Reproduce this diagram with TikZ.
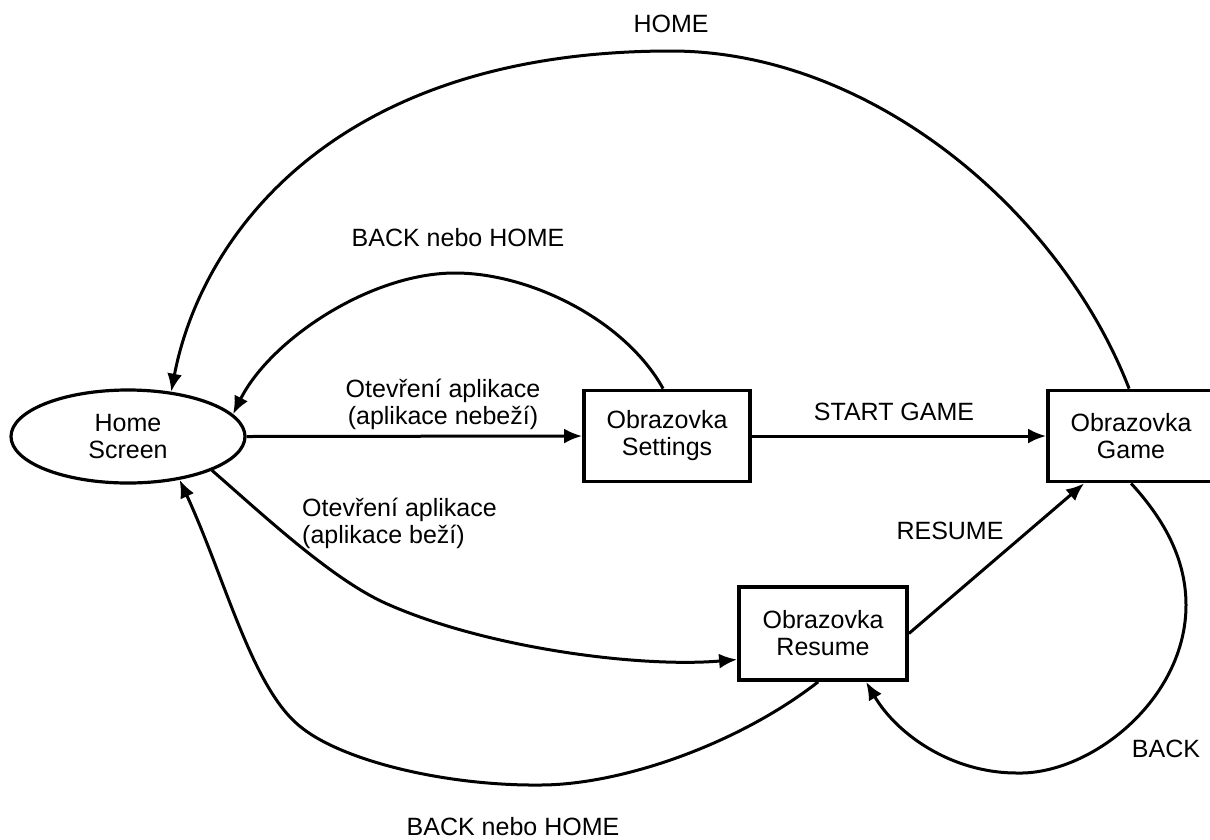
\documentclass[tikz,border=0pt]{standalone}
\usepackage{fontspec}
\setmainfont{Liberation Sans}
\usetikzlibrary{arrows.meta,shapes.geometric,calc}
\begin{document}
\begin{tikzpicture}[x=1pt,y=-1pt,
  every node/.style={font=\fontsize{25}{27}\selectfont, inner sep=0pt},
  statebox/.style={draw, rectangle, line width=3.8pt, minimum width=166pt, minimum height=91pt, align=center},
  stateell/.style={draw, ellipse, line width=3.2pt, minimum width=234pt, minimum height=93pt, align=center},
  conn/.style={line width=3pt, -{Latex[length=18pt,width=15pt]}},
  lbl/.style={align=center}]
\useasboundingbox (0,0) rectangle (1210,839);
% nodes
\node[stateell] (hs) at (128,436.5) {Home\\Screen};
\node[statebox] (set) at (667,436) {Obrazovka\\Settings};
\node[statebox] (game) at (1131,436) {Obrazovka\\Game};
\node[statebox, minimum width=168pt, minimum height=93pt] (res) at (823,633.5) {Obrazovka\\Resume};
% straight connectors
\draw[conn] (hs.east) -- (set.west);
\draw[conn] (set.east) -- (game.west);
\draw[conn] (res.east) -- ($(game.south west)+(38,0)$);
% HOME arc
\draw[conn] ($(game.north west)+(83,0)$) .. controls (1060,210) and (870,51) .. (671,51)
  .. controls (330,51) and (200,240) .. (hs.46);
% upper BACK nebo HOME arc
\draw[conn] ($(set.north west)+(81,0)$) .. controls (625,320) and (530,273) .. (455,273)
  .. controls (370,273) and (270,340) .. (hs.12);
% lower open arc
\draw[conn] (hs.-22) .. controls (260,512) and (330,578) .. (385,603)
  .. controls (485,648) and (640,668) .. ($(res.west)+(0,26)$);
% BACK loop
\draw[conn] ($(game.south west)+(85,0)$) .. controls (1160,515) and (1186,555) .. (1186,605)
  .. controls (1186,700) and (1090,775) .. (1017,773)
  .. controls (950,773) and (896,733) .. ($(res.south west)+(129,0)$);
% bottom BACK nebo HOME arc
\draw[conn] ($(res.south west)+(81,0)$) .. controls (737,745) and (620,785) .. (540,785)
  .. controls (445,786) and (335,760) .. (295,722)
  .. controls (250,680) and (224,576) .. (hs.-40);
% labels
\node (lhome) at (671,24) {HOME};
\node (lbnh1) at (458,238) {BACK nebo HOME};
\node (lbnh2) at (513,827) {BACK nebo HOME};
\node (lback) at (1166,749) {BACK};
\node (lres) at (950,531) {RESUME};
\node (lstart) at (894,412) {START GAME};
\node[lbl] (lopen1) at (443,404) {Otevření aplikace\\(aplikace nebeží)};
\node[align=left, anchor=west] (lopen2) at (302,523) {Otevření aplikace\\(aplikace beží)};
\end{tikzpicture}
\end{document}
